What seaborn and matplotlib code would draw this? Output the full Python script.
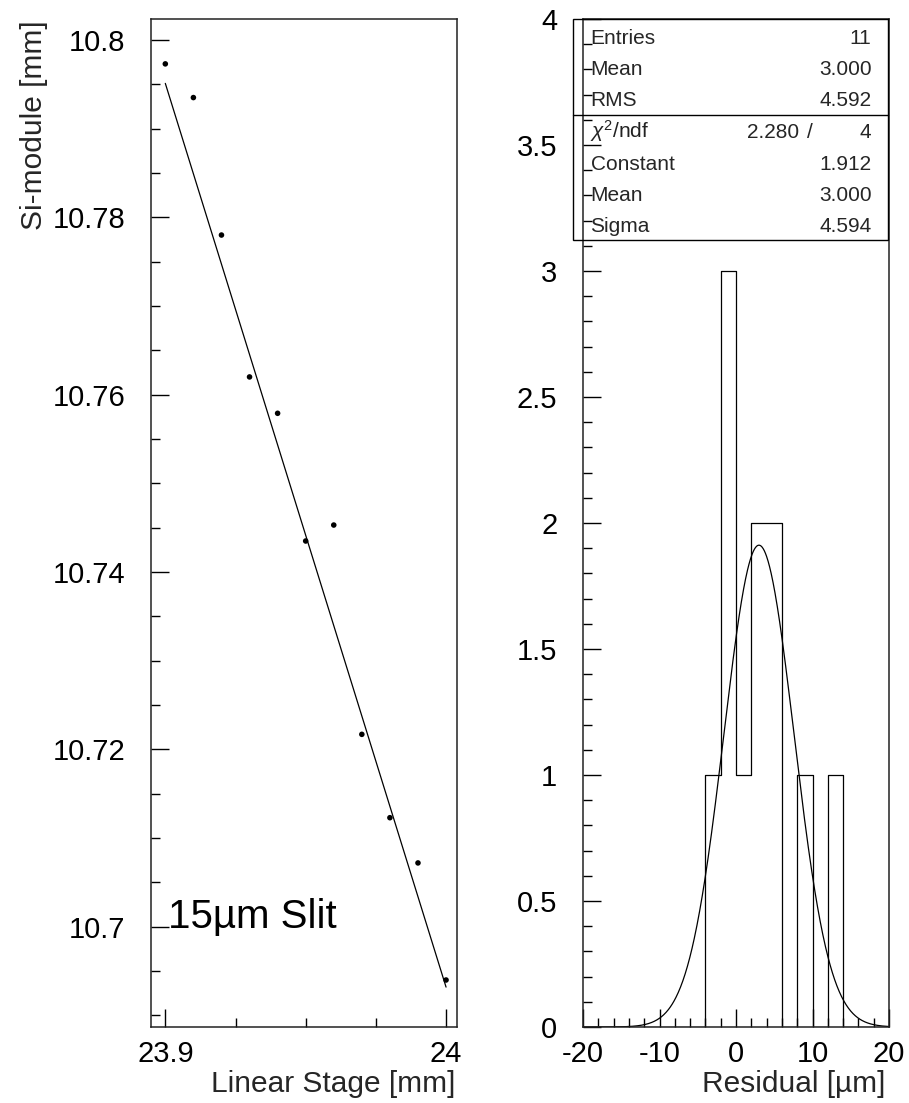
import numpy as np
import pandas as pd
import matplotlib
matplotlib.use("Agg")
import matplotlib.pyplot as plt
from matplotlib.ticker import MultipleLocator, FuncFormatter
from matplotlib.patches import Rectangle
from matplotlib.lines import Line2D
import seaborn as sns

# ---------------- data ----------------
stage_mm = [23.90, 23.91, 23.92, 23.93, 23.94, 23.95, 23.96, 23.97, 23.98, 23.99, 24.00]
simodule_mm = [10.7973, 10.7935, 10.7780, 10.7620, 10.7579, 10.7435, 10.7453,
               10.7217, 10.7123, 10.7072, 10.6940]
fit_x = [23.90, 24.00]
fit_y = [10.7951, 10.6932]

resid_edges = [-20, -18, -16, -14, -12, -10, -8, -6, -4, -2, 0, 2, 4, 6, 8, 10, 12, 14, 16, 18, 20]
resid_counts = [0, 0, 0, 0, 0, 0, 0, 0, 1, 3, 1, 2, 2, 0, 1, 0, 1, 0, 0, 0]

gaus_constant = 1.912
gaus_mean = 3.000
gaus_sigma = 4.594

stats_labels = ["Entries", "Mean", "RMS"]
stats_values = ["11", "3.000", "4.592"]
fit_labels = ["Constant", "Mean", "Sigma"]
fit_values = ["1.912", "3.000", "4.594"]
chi2_value = "2.280"
ndf_value = "4"

# ---------------- style ----------------
sns.set_theme(style="ticks")
plt.rcParams["font.family"] = ["Liberation Sans", "DejaVu Sans"]
plt.rcParams["axes.unicode_minus"] = False
plt.rcParams["mathtext.fontset"] = "custom"
plt.rcParams["mathtext.rm"] = "Liberation Sans"
plt.rcParams["mathtext.it"] = "Liberation Sans:italic"

W, H = 909, 1103
fig = plt.figure(figsize=(W / 100, H / 100), dpi=100)

def ax_rect(x0, x1, y0, y1):
    return [x0 / W, 1 - y1 / H, (x1 - x0) / W, (y1 - y0) / H]

axL = fig.add_axes(ax_rect(151, 457, 19, 1027))
axR = fig.add_axes(ax_rect(583, 889, 19, 1027))

TICK_FS = 21
LABEL_FS = 21.5

for ax in (axL, axR):
    for s in ax.spines.values():
        s.set_color("#222222")
        s.set_linewidth(1.1)
    ax.tick_params(which="both", direction="in", left=True, bottom=True, top=False, right=False,
                   colors="black", labelsize=TICK_FS)
    ax.tick_params(which="major", length=13, width=1.0)
    ax.tick_params(which="minor", length=6.5, width=1.0)
    ax.set_facecolor("white")

fmt = FuncFormatter(lambda v, p: "%g" % round(v, 6))

# ---------------- left panel ----------------
df = pd.DataFrame({"x": stage_mm, "y": simodule_mm})
sns.scatterplot(data=df, x="x", y="y", ax=axL, color="black", s=16, edgecolor="none", linewidth=0)
sns.lineplot(x=fit_x, y=fit_y, ax=axL, color="black", linewidth=0.9)

axL.set_xlim(23.8949, 24.0039)
axL.set_ylim(10.6887, 10.80236)
axL.xaxis.set_major_locator(MultipleLocator(0.1))
axL.xaxis.set_minor_locator(MultipleLocator(0.025))
axL.yaxis.set_major_locator(MultipleLocator(0.02))
axL.yaxis.set_minor_locator(MultipleLocator(0.005))
axL.xaxis.set_major_formatter(fmt)
axL.yaxis.set_major_formatter(fmt)
axL.tick_params(axis="y", pad=18.5)
axL.tick_params(axis="x", pad=9.5)

axL.set_xlabel("Linear Stage [mm]", fontsize=LABEL_FS, loc="right")
axL.xaxis.set_label_coords(0.995, -0.0425)
axL.set_ylabel("Si-module [mm]", fontsize=LABEL_FS, loc="top")
axL.yaxis.set_label_coords(-0.335, 0.999)

axL.text(0.0556, 0.0982, "15\u00b5m Slit", transform=axL.transAxes, fontsize=29,
         ha="left", va="baseline", color="black")

# ---------------- right panel ----------------
centers = [(a + b) / 2 for a, b in zip(resid_edges[:-1], resid_edges[1:])]
hdf = pd.DataFrame({"r": centers, "w": resid_counts})
sns.histplot(data=hdf, x="r", weights="w", bins=resid_edges, element="step", fill=False,
             color="black", linewidth=0.9, ax=axR)

gx = np.linspace(-20, 20, 801)
gy = gaus_constant * np.exp(-0.5 * ((gx - gaus_mean) / gaus_sigma) ** 2)
sns.lineplot(x=gx, y=gy, ax=axR, color="black", linewidth=0.9)

axR.set_xlim(-20, 20)
axR.set_ylim(0, 4.0)
axR.xaxis.set_major_locator(MultipleLocator(10))
axR.xaxis.set_minor_locator(MultipleLocator(2))
axR.yaxis.set_major_locator(MultipleLocator(0.5))
axR.yaxis.set_minor_locator(MultipleLocator(0.1))
axR.xaxis.set_major_formatter(fmt)
axR.yaxis.set_major_formatter(fmt)
axR.tick_params(axis="y", pad=18.5)
axR.tick_params(axis="x", pad=9.5)
axR.set_ylabel("")
axR.set_xlabel("Residual [\u00b5m]", fontsize=LABEL_FS, loc="right")
axR.xaxis.set_label_coords(0.987, -0.0425)

# ---------------- stats box ----------------
bx0, bx1, by0, by1, bdiv = 573, 888, 19.5, 239.5, 114.5
fig.add_artist(Rectangle((bx0 / W, 1 - by1 / H), (bx1 - bx0) / W, (by1 - by0) / H,
                         transform=fig.transFigure, fill=False, edgecolor="black", linewidth=1.0))
fig.add_artist(Line2D([bx0 / W, bx1 / W], [1 - bdiv / H, 1 - bdiv / H],
                      transform=fig.transFigure, color="black", linewidth=1.0))

baselines = [43.5, 75.0, 106.5, 138.0, 169.5, 201.0, 232.5]
lx, rx = 590.5, 871.5
SFS = 15
for i, (lab, val) in enumerate(zip(stats_labels, stats_values)):
    fig.text(lx / W, 1 - baselines[i] / H, lab, fontsize=SFS, ha="left", va="baseline")
    fig.text(rx / W, 1 - baselines[i] / H, val, fontsize=SFS, ha="right", va="baseline")
fig.text(lx / W, 1 - baselines[3] / H, r"$\chi^2$/ndf", fontsize=SFS, ha="left", va="baseline",
         color="#222222")
fig.text(799 / W, 1 - baselines[3] / H, chi2_value, fontsize=SFS, ha="right", va="baseline")
fig.text(810 / W, 1 - baselines[3] / H, "/", fontsize=SFS, ha="center", va="baseline")
fig.text(rx / W, 1 - baselines[3] / H, ndf_value, fontsize=SFS, ha="right", va="baseline")
for j, (lab, val) in enumerate(zip(fit_labels, fit_values)):
    fig.text(lx / W, 1 - baselines[4 + j] / H, lab, fontsize=SFS, ha="left", va="baseline")
    fig.text(rx / W, 1 - baselines[4 + j] / H, val, fontsize=SFS, ha="right", va="baseline")

fig.savefig("out.png", dpi=100, facecolor="white")
